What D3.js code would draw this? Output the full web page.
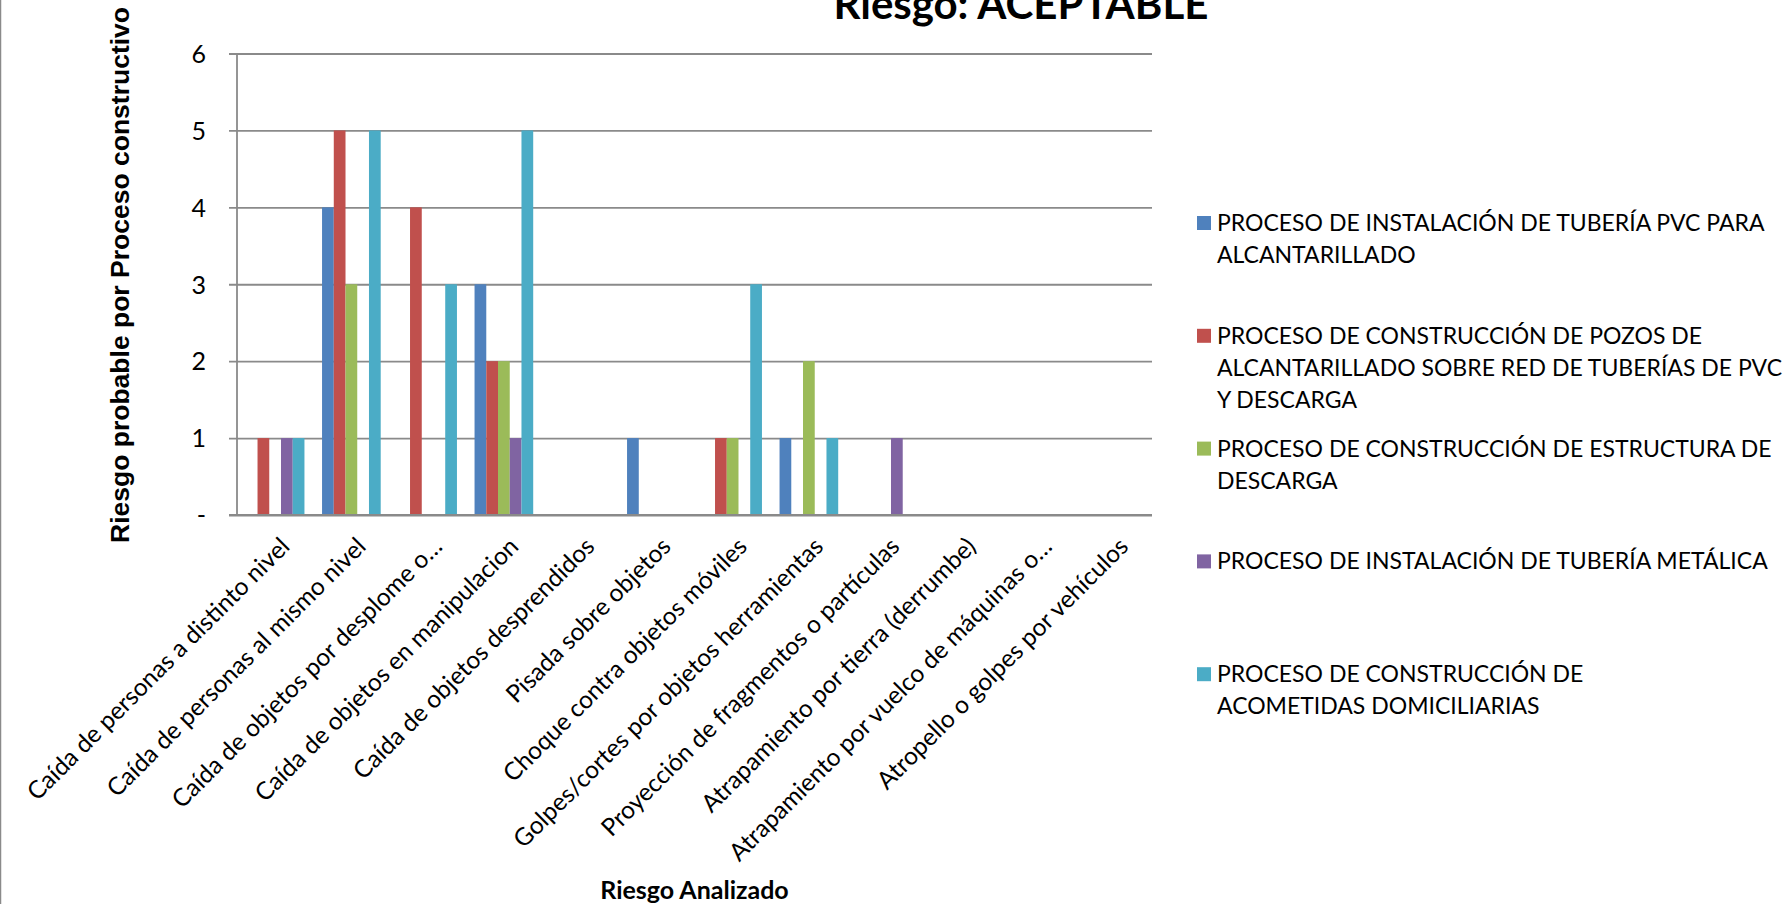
<!DOCTYPE html>
<html>
<head>
<meta charset="utf-8">
<script src="https://cdn.jsdelivr.net/npm/d3@7"></script>
<style>
  html, body { margin: 0; padding: 0; background: #fff; }
  svg { display: block; }
</style>
</head>
<body>
<svg id="chart" width="1784" height="904"></svg>
<script>
// Riesgos analizados (eje X)
const categories = [
  "Caída de personas a distinto nivel",
  "Caída de personas al mismo nivel",
  "Caída de objetos por desplome o…",
  "Caída de objetos en manipulacion",
  "Caída de objetos desprendidos",
  "Pisada sobre objetos",
  "Choque contra objetos móviles",
  "Golpes/cortes por objetos herramientas",
  "Proyección de fragmentos o partículas",
  "Atrapamiento por tierra (derrumbe)",
  "Atrapamiento por vuelco de máquinas o…",
  "Atropello o golpes por vehículos"
];

// Procesos constructivos (series)
const seriesNames = [
  "PROCESO DE INSTALACIÓN DE TUBERÍA PVC PARA ALCANTARILLADO",
  "PROCESO DE CONSTRUCCIÓN DE POZOS DE ALCANTARILLADO SOBRE RED DE TUBERÍAS DE PVC Y DESCARGA",
  "PROCESO DE CONSTRUCCIÓN DE ESTRUCTURA DE DESCARGA",
  "PROCESO DE INSTALACIÓN DE TUBERÍA METÁLICA",
  "PROCESO DE CONSTRUCCIÓN DE ACOMETIDAS DOMICILIARIAS"
];

// Líneas del texto de leyenda
const legendLines = [
  ["PROCESO DE INSTALACIÓN DE TUBERÍA PVC PARA", "ALCANTARILLADO"],
  ["PROCESO DE CONSTRUCCIÓN DE POZOS DE", "ALCANTARILLADO SOBRE RED DE TUBERÍAS DE PVC", "Y DESCARGA"],
  ["PROCESO DE CONSTRUCCIÓN DE ESTRUCTURA DE", "DESCARGA"],
  ["PROCESO DE INSTALACIÓN DE TUBERÍA METÁLICA"],
  ["PROCESO DE CONSTRUCCIÓN DE", "ACOMETIDAS DOMICILIARIAS"]
];

// Valores por proceso, en el orden de las categorías
const tuberiaPVC      = [0, 4, 0, 3, 0, 1, 0, 1, 0, 0, 0, 0];
const pozos           = [1, 5, 4, 2, 0, 0, 1, 0, 0, 0, 0, 0];
const estructura      = [0, 3, 0, 2, 0, 0, 1, 2, 0, 0, 0, 0];
const tuberiaMetalica = [1, 0, 0, 1, 0, 0, 0, 0, 1, 0, 0, 0];
const acometidas      = [1, 5, 3, 5, 0, 0, 3, 1, 0, 0, 0, 0];

const seriesValues = [tuberiaPVC, pozos, estructura, tuberiaMetalica, acometidas];
const colors = ["#4F81BD", "#C0504D", "#9BBB59", "#8064A2", "#4BACC6"];

const yTicks = [0, 1, 2, 3, 4, 5, 6];
const yTickLabels = ["-", "1", "2", "3", "4", "5", "6"];

const titleText = "Riesgo: ACEPTABLE";
const xTitle = "Riesgo Analizado";
const yTitle = "Riesgo probable por Proceso constructivo";

// ---- layout ----
const svg = d3.select("#chart");
const plot = { left: 237, right: 1152, top: 53.5, bottom: 515 };
const FONT = "Lato, 'Open Sans', sans-serif";
const GRID = "#8a8a8a";

const gap = 1.5 / 6.5;
const x = d3.scaleBand()
  .domain(categories)
  .range([plot.left, plot.right])
  .paddingInner(gap)
  .paddingOuter(gap / 2);

const xs = d3.scaleBand()
  .domain(d3.range(seriesNames.length))
  .range([0, x.bandwidth()]);

const y = d3.scaleLinear().domain([0, 6]).range([plot.bottom, plot.top]);

// frame edge at the left
svg.append("line")
  .attr("x1", 0.5).attr("x2", 0.5).attr("y1", 0).attr("y2", 904)
  .attr("stroke", "#8a8a8a").attr("stroke-width", 1.5);

// horizontal gridlines + ticks
const yAxis = d3.axisLeft(y)
  .tickValues(yTicks)
  .tickSize(-(plot.right - plot.left))
  .tickFormat((d, i) => yTickLabels[i]);

const gy = svg.append("g")
  .attr("transform", `translate(${plot.left},0)`)
  .call(yAxis);
gy.select(".domain").remove();
gy.selectAll(".tick line")
  .attr("x1", -8)
  .attr("stroke", GRID).attr("stroke-width", 1.8);
gy.selectAll(".tick text")
  .attr("x", -31)
  .attr("dy", "0.35em")
  .attr("font-family", FONT)
  .attr("font-size", 25)
  .attr("fill", "#000")
  .attr("text-anchor", "end");

// vertical axis line
svg.append("line")
  .attr("x1", plot.left).attr("x2", plot.left)
  .attr("y1", plot.top).attr("y2", plot.bottom)
  .attr("stroke", GRID).attr("stroke-width", 1.8);

// bars
const groups = svg.append("g").selectAll("g")
  .data(categories)
  .join("g")
  .attr("transform", d => `translate(${x(d)},0)`);

groups.selectAll("rect")
  .data((d, ci) => seriesValues.map((vals, si) => ({ si, v: vals[ci] })))
  .join("rect")
  .attr("x", d => xs(d.si))
  .attr("width", xs.bandwidth())
  .attr("y", d => y(d.v))
  .attr("height", d => y(0) - y(d.v))
  .attr("fill", d => colors[d.si]);

// x axis line over the bar bases
svg.append("line")
  .attr("x1", plot.left - 8).attr("x2", plot.right)
  .attr("y1", plot.bottom).attr("y2", plot.bottom)
  .attr("stroke", GRID).attr("stroke-width", 1.8);

// category labels, rotated
svg.append("g").selectAll("text")
  .data(categories)
  .join("text")
  .attr("transform", d => `translate(${x(d) + x.bandwidth() / 2 + 16},${plot.bottom + 33}) rotate(-45)`)
  .attr("text-anchor", "end")
  .attr("font-family", FONT)
  .attr("font-size", 24.5)
  .attr("fill", "#000")
  .text(d => d);

// title
svg.append("text")
  .attr("x", 1021).attr("y", 19)
  .attr("text-anchor", "middle")
  .attr("font-family", FONT)
  .attr("font-weight", "bold")
  .attr("font-size", 42)
  .attr("fill", "#000")
  .text(titleText);

// x axis title
svg.append("text")
  .attr("x", (plot.left + plot.right) / 2).attr("y", 899)
  .attr("text-anchor", "middle")
  .attr("font-family", FONT)
  .attr("font-weight", "bold")
  .attr("font-size", 25)
  .attr("fill", "#000")
  .text(xTitle);

// y axis title
svg.append("text")
  .attr("transform", `translate(129,275) rotate(-90)`)
  .attr("text-anchor", "middle")
  .attr("font-family", "'Liberation Sans', Arial, sans-serif")
  .attr("font-weight", "bold")
  .attr("font-size", 26.5)
  .attr("fill", "#000")
  .text(yTitle);

// legend
const legend = svg.append("g").selectAll("g")
  .data(seriesNames)
  .join("g")
  .attr("transform", (d, i) => `translate(1197,${223 + i * 112.8})`);

legend.append("rect")
  .attr("x", 0).attr("y", -7)
  .attr("width", 14).attr("height", 14)
  .attr("fill", (d, i) => colors[i]);

legend.append("text")
  .attr("font-family", FONT)
  .attr("font-size", 23)
  .attr("fill", "#000")
  .selectAll("tspan")
  .data((d, i) => legendLines[i])
  .join("tspan")
  .attr("x", 20)
  .attr("y", (d, j) => j * 32)
  .attr("dy", "0.35em")
  .text(d => d);
</script>
</body>
</html>
